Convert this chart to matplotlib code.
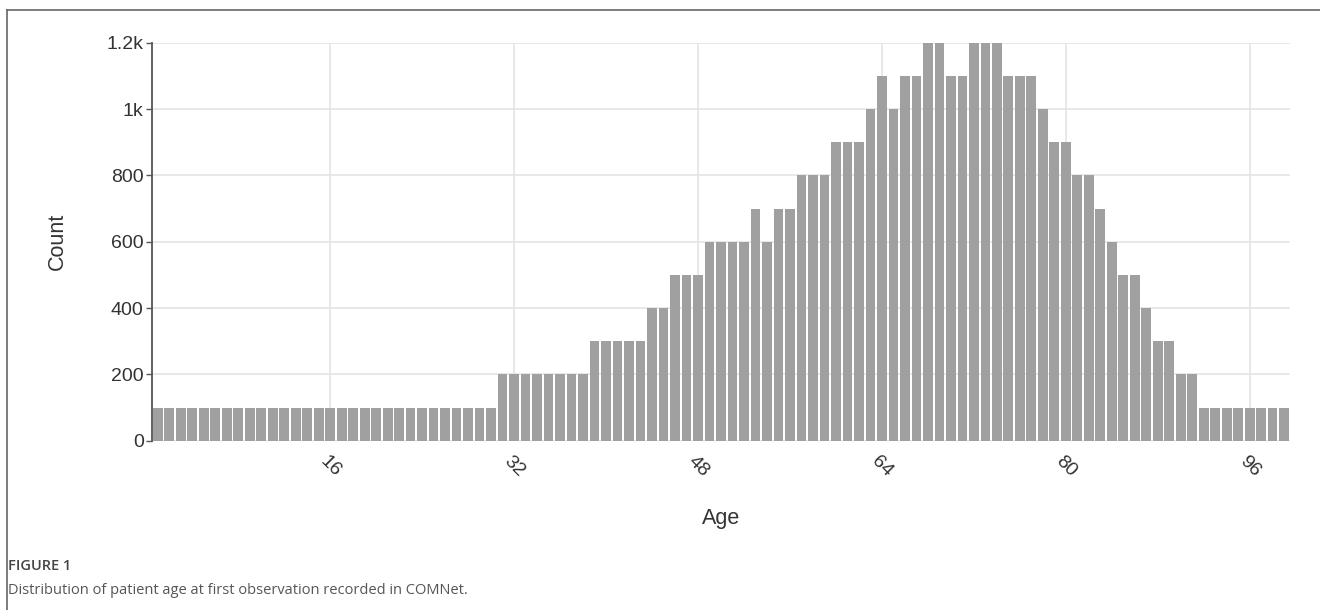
import matplotlib.pyplot as plt
from matplotlib.lines import Line2D

plt.rcParams['font.family'] = ['Liberation Sans', 'DejaVu Sans']

# data: count of patients per age (1..99)
ages = list(range(1, 100))
counts = ([100] * 30 + [200] * 8 + [300] * 5 + [400] * 2 + [500] * 3 + [600] * 4
          + [700, 600, 700, 700] + [800] * 3 + [900] * 3
          + [1000, 1100, 1000, 1100, 1100, 1200, 1200, 1100, 1100, 1200, 1200, 1200,
             1100, 1100, 1100, 1000, 900, 900, 800, 800, 700, 600, 500, 500, 400,
             300, 300, 200, 200] + [100] * 8)
x_ticks = [16, 32, 48, 64, 80, 96]
y_ticks = [0, 200, 400, 600, 800, 1000, 1200]
y_tick_labels = ['0', '200', '400', '600', '800', '1k', '1.2k']

fig = plt.figure(figsize=(13.2, 6.1), dpi=100)
ax = fig.add_axes([0.1152, 0.2775, 0.862, 0.6525])

ax.bar(ages, counts, width=0.84, color='#a0a0a0', zorder=2)

ax.set_xlim(0.5, 99.5)
ax.set_ylim(0, 1200)
ax.set_xticks(x_ticks)
ax.set_xticklabels([str(t) for t in x_ticks], rotation=-45, ha='center', va='top')
ax.set_yticks(y_ticks)
ax.set_yticklabels(y_tick_labels)
ax.tick_params(axis='x', length=0, pad=9, labelsize=14, labelcolor='#333333')
ax.tick_params(axis='y', length=4, width=1, color='#555555', pad=2,
               labelsize=14, labelcolor='#333333')

ax.grid(True, color='#e6e6e6', linewidth=1.3, zorder=0)
ax.set_axisbelow(True)
for s in ['top', 'right', 'bottom']:
    ax.spines[s].set_visible(False)
ax.spines['left'].set_color('#555555')
ax.spines['left'].set_linewidth(1.3)

ax.set_xlabel('Age', fontsize=15.5, color='#333333', labelpad=20)
ax.set_ylabel('Count', fontsize=15.5, color='#333333', labelpad=28)

# frame lines of the figure panel
fig.add_artist(Line2D([7 / 1320, 1], [1 - 10 / 610, 1 - 10 / 610], color='#666666', linewidth=1.2))
fig.add_artist(Line2D([7 / 1320, 7 / 1320], [0, 1 - 10 / 610], color='#666666', linewidth=1.2))

# caption
fig.text(8 / 1320, 1 - 566 / 610, 'FIGURE 1', fontsize=10.5, color='#444444',
         family=['Open Sans', 'DejaVu Sans'], fontweight='semibold', va='center')
fig.text(8 / 1320, 1 - 590 / 610, 'Distribution of patient age at first observation recorded in COMNet.',
         fontsize=10.5, color='#555555', family=['Open Sans', 'DejaVu Sans'], va='center')

fig.savefig('out.png', dpi=100)
